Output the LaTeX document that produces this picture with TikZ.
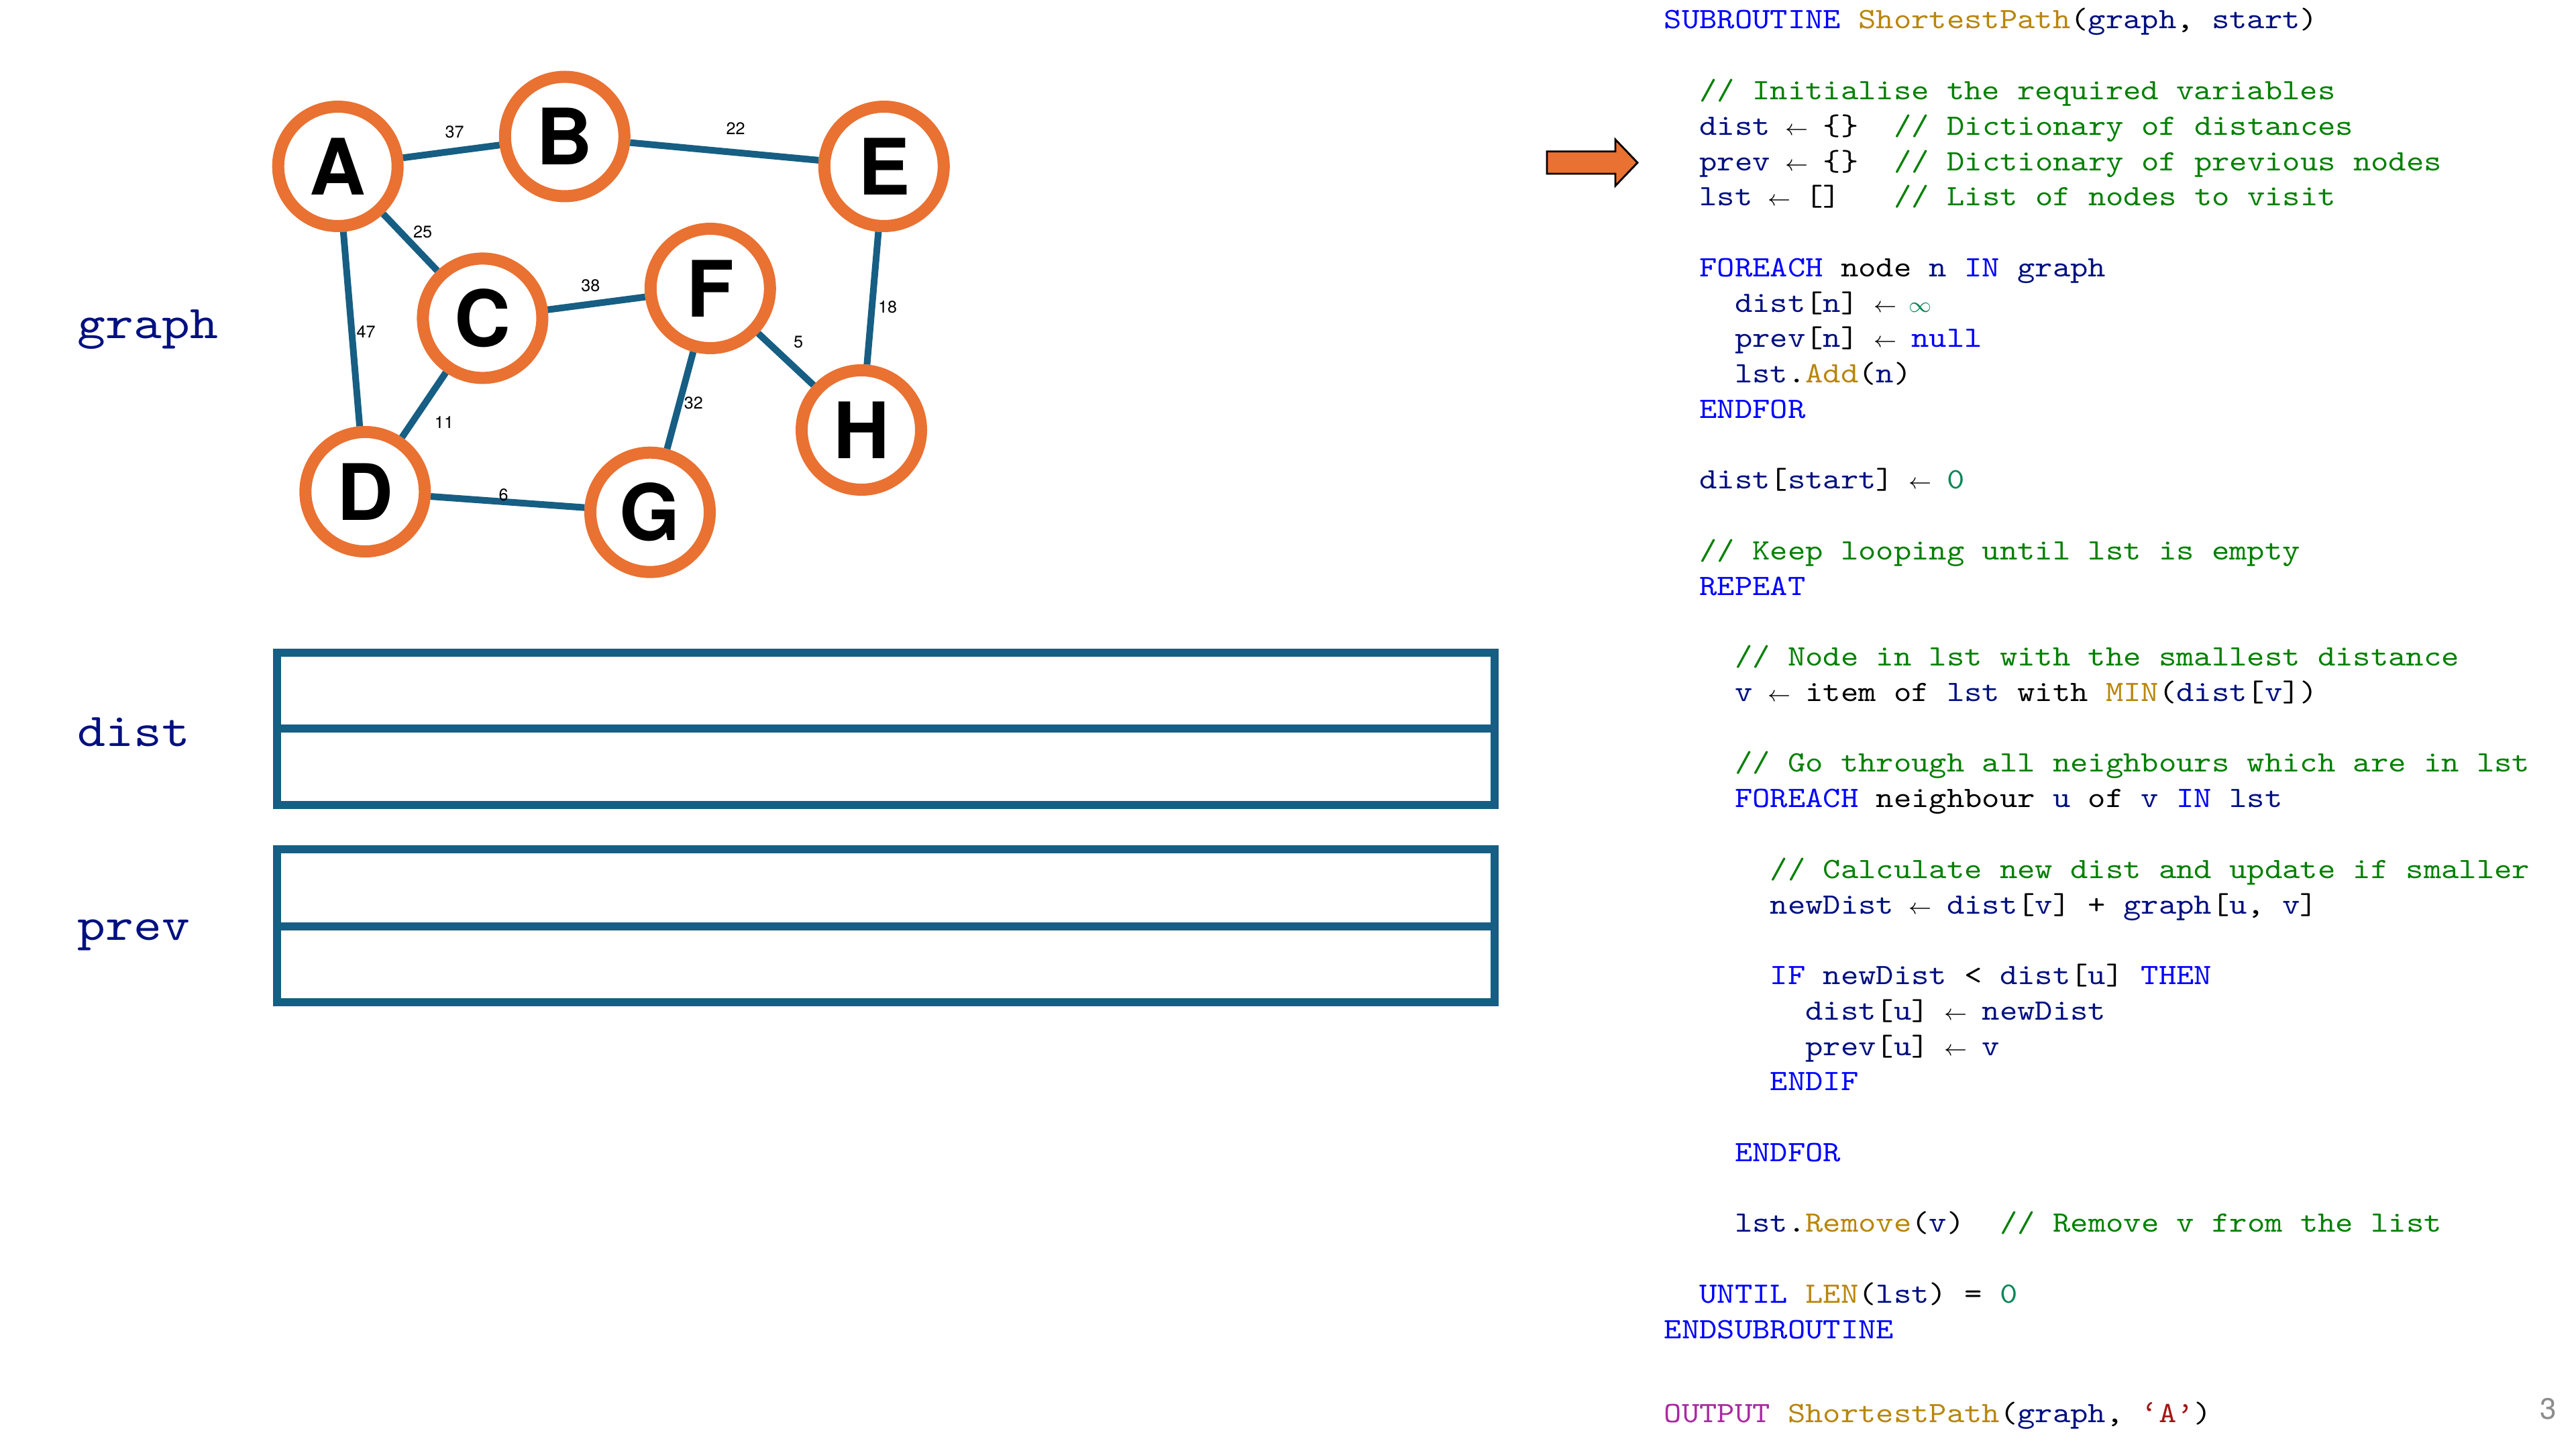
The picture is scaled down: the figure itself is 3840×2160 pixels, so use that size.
\documentclass[tikz,border=0pt]{standalone}
\usepackage{fontspec}
\newfontfamily\codefont{lmmono10-regular}[Extension=.otf,FakeStretch=1.14]
\newfontfamily\heros{TeX Gyre Heros}

\definecolor{orangeC}{HTML}{E97132}
\definecolor{edgeblue}{HTML}{165E83}
\definecolor{navyC}{HTML}{001080}
\definecolor{kwblue}{HTML}{0000FF}
\definecolor{fngold}{HTML}{B8860B}
\definecolor{cmgreen}{HTML}{008000}
\definecolor{numteal}{HTML}{098658}
\definecolor{ctlmag}{HTML}{AA2AA0}
\definecolor{strred}{HTML}{A31515}
\definecolor{pagegray}{HTML}{8C8C8C}

% syntax colouring helpers
\newcommand\ckw[1]{\textcolor{kwblue}{#1}}
\newcommand\cfn[1]{\textcolor{fngold}{#1}}
\newcommand\cvr[1]{\textcolor{navyC}{#1}}
\newcommand\ccm[1]{\textcolor{cmgreen}{#1}}
\newcommand\cnm[1]{\textcolor{numteal}{#1}}
\newcommand\cct[1]{\textcolor{ctlmag}{#1}}
\newcommand\cst[1]{\textcolor{strred}{#1}}
% one-character-wide symbols and fixed-width spaces
\newcommand\monosp{\spaceskip=\fontcharwd\font`x\relax\xspaceskip=\spaceskip}
\newcommand\larr{\makebox[\fontcharwd\font`x]{$\scriptstyle\leftarrow$}}
\newcommand\infsym{\makebox[\fontcharwd\font`x]{$\scriptstyle\infty$}}
% a line of pseudocode: line number, column, text
\newcommand\codeline[3]{\node[codetxt] (cl#1) at ({2480+26.35*#2},{43+52.76*#1}) {\monosp #3};}
\newcommand\codenote[3]{\node[codetxt] (cn#1) at ({2480+26.35*#2},{43+52.76*#1}) {\monosp\ccm{#3}};}

\begin{document}
\begin{tikzpicture}[x=0.25pt,y=-0.25pt,
  vertex/.style={circle, draw=orangeC, line width=4.5pt, fill=white,
    minimum size=44.5pt, inner sep=0pt,
    font=\heros\bfseries\fontsize{29}{29}\selectfont},
  link/.style={draw=edgeblue, line width=2.5pt},
  wlbl/.style={inner sep=0pt, font=\heros\fontsize{6.3}{7}\selectfont},
  varlbl/.style={anchor=base west, inner sep=0pt, text=navyC,
    font=\codefont\fontsize{17.5}{20}\selectfont},
  codetxt/.style={anchor=base west, inner sep=0pt,
    font=\codefont\fontsize{11}{13}\selectfont},
  cell/.style={draw=edgeblue, line width=3pt}]

\useasboundingbox (0,0) rectangle (3840,2160);
\fill[white] (0,0) rectangle (3840,2160);

% ---- graph ----
\node[vertex] (A) at (503.7,248) {A};
\node[vertex] (B) at (841.8,203.5) {B};
\node[vertex] (E) at (1317.8,248) {E};
\node[vertex] (C) at (719.4,474.4) {C};
\node[vertex] (F) at (1058.8,430) {F};
\node[vertex] (H) at (1284,641) {H};
\node[vertex] (D) at (544.3,733) {D};
\node[vertex] (G) at (969,763.7) {G};

\draw[link] (A) -- (B);
\draw[link] (B) -- (E);
\draw[link] (A) -- (C);
\draw[link] (A) -- (D);
\draw[link] (C) -- (F);
\draw[link] (C) -- (D);
\draw[link] (E) -- (H);
\draw[link] (F) -- (H);
\draw[link] (F) -- (G);
\draw[link] (D) -- (G);

\node[wlbl] (wAB) at (677.5,196.3) {37};
\node[wlbl] (wBE) at (1096.7,191.2) {22};
\node[wlbl] (wAC) at (630.2,345.3) {25};
\node[wlbl] (wAD) at (545.6,494.3) {47};
\node[wlbl] (wCF) at (880.3,425.9) {38};
\node[wlbl] (wCD) at (662,629.5) {11};
\node[wlbl] (wEH) at (1323.2,457.6) {18};
\node[wlbl] (wFH) at (1190,510) {5};
\node[wlbl] (wFG) at (1033.8,600.4) {32};
\node[wlbl] (wDG) at (750.5,738.2) {6};

% ---- variable labels ----
\node[varlbl] (lgraph) at (115,505) {graph};
\node[varlbl] (ldist) at (115,1112) {dist};
\node[varlbl] (lprev) at (115,1401) {prev};

% ---- empty tables ----
\draw[cell] (413,973) rectangle (2228,1200);
\draw[cell] (413,1086) -- (2228,1086);
\draw[cell] (413,1266) rectangle (2228,1494);
\draw[cell] (413,1381) -- (2228,1381);

% ---- current line marker ----
\draw[fill=orangeC, draw=black, line width=0.7pt]
  (2306,225.7) -- (2408,225.7) -- (2408,208) -- (2441,242.5)
  -- (2408,277) -- (2408,259) -- (2306,259) -- cycle;

% ---- pseudocode ----
\codeline{0}{0}{\ckw{SUBROUTINE} \cfn{ShortestPath}(\cvr{graph}, \cvr{start})}
\codenote{2}{2}{// Initialise the required variables}
\codeline{3}{2}{\cvr{dist} \larr{} \{\}}
\codenote{3}{13}{// Dictionary of distances}
\codeline{4}{2}{\cvr{prev} \larr{} \{\}}
\codenote{4}{13}{// Dictionary of previous nodes}
\codeline{5}{2}{\cvr{lst} \larr{} []}
\codenote{5}{13}{// List of nodes to visit}
\codeline{7}{2}{\ckw{FOREACH} node \cvr{n} \ckw{IN} \cvr{graph}}
\codeline{8}{4}{\cvr{dist}[\cvr{n}] \larr{} \textcolor{numteal}{\infsym}}
\codeline{9}{4}{\cvr{prev}[\cvr{n}] \larr{} \ckw{null}}
\codeline{10}{4}{\cvr{lst}.\cfn{Add}(\cvr{n})}
\codeline{11}{2}{\ckw{ENDFOR}}
\codeline{13}{2}{\cvr{dist}[\cvr{start}] \larr{} \cnm{0}}
\codenote{15}{2}{// Keep looping until lst is empty}
\codeline{16}{2}{\ckw{REPEAT}}
\codenote{18}{4}{// Node in lst with the smallest distance}
\codeline{19}{4}{\cvr{v} \larr{} item of \cvr{lst} with \cfn{MIN}(\cvr{dist}[\cvr{v}])}
\codenote{21}{4}{// Go through all neighbours which are in lst}
\codeline{22}{4}{\ckw{FOREACH} neighbour \cvr{u} of \cvr{v} \ckw{IN} \cvr{lst}}
\codenote{24}{6}{// Calculate new dist and update if smaller}
\codeline{25}{6}{\cvr{newDist} \larr{} \cvr{dist}[\cvr{v}] + \cvr{graph}[\cvr{u}, \cvr{v}]}
\codeline{27}{6}{\ckw{IF} \cvr{newDist} < \cvr{dist}[\cvr{u}] \ckw{THEN}}
\codeline{28}{8}{\cvr{dist}[\cvr{u}] \larr{} \cvr{newDist}}
\codeline{29}{8}{\cvr{prev}[\cvr{u}] \larr{} \cvr{v}}
\codeline{30}{6}{\ckw{ENDIF}}
\codeline{32}{4}{\ckw{ENDFOR}}
\codeline{34}{4}{\cvr{lst}.\cfn{Remove}(\cvr{v})}
\codenote{34}{19}{// Remove v from the list}
\codeline{36}{2}{\ckw{UNTIL} \cfn{LEN}(\cvr{lst}) = \cnm{0}}
\codeline{37}{0}{\ckw{ENDSUBROUTINE}}
\node[codetxt] (outcall) at (2480,2120)
  {\monosp\cct{OUTPUT} \cfn{ShortestPath}(\cvr{graph}, \cst{‘A’})};

% ---- page number ----
\node[anchor=base, inner sep=0pt, text=pagegray,
  font=\heros\fontsize{11}{13}\selectfont] (pagenum) at (3799,2115) {3};
\end{tikzpicture}
\end{document}
